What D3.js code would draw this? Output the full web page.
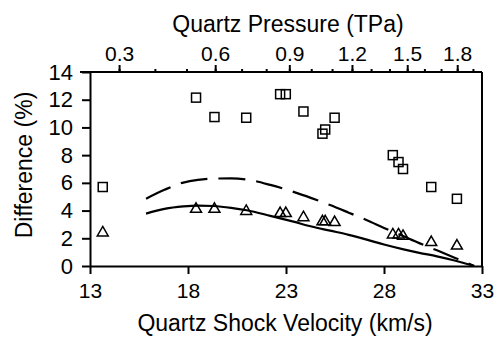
<!DOCTYPE html>
<html>
<head>
<meta charset="utf-8">
<script src="https://cdn.jsdelivr.net/npm/d3@7"></script>
<style>
  html, body { margin: 0; padding: 0; background: #fff; }
  svg { display: block; }
  text { font-family: "Liberation Sans", Arial, Helvetica, sans-serif; fill: #000; }
</style>
</head>
<body>
<svg id="chart" width="500" height="337"></svg>
<script>
// ---- data ----
const shockVelocity = [13.65, 18.41, 19.35, 20.97, 22.70, 22.99, 23.89, 24.86, 25.00, 25.48, 28.45, 28.74, 28.97, 30.41, 31.72];
const squareDiff    = [5.7, 12.15, 10.75, 10.7, 12.4, 12.4, 11.15, 9.55, 9.85, 10.7, 8.0, 7.5, 7.0, 5.7, 4.85];
const triangleDiff  = [2.4, 4.1, 4.1, 3.95, 3.8, 3.8, 3.5, 3.2, 3.2, 3.15, 2.25, 2.25, 2.15, 1.7, 1.45];

const curveVelocity = [15.86, 16.8, 17.76, 18.5, 19.3, 20.2, 21.0, 22.2, 23.38, 24.3, 25.25, 26.2, 27.13, 28.0, 29.0, 29.8, 30.7, 31.6, 32.6];
const dashedDiff    = [4.86, 5.5, 6.02, 6.22, 6.31, 6.32, 6.24, 5.85, 5.35, 4.9, 4.4, 3.85, 3.3, 2.75, 2.14, 1.65, 1.13, 0.6, 0.0];
const solidDiff     = [3.78, 4.12, 4.3, 4.36, 4.33, 4.2, 4.02, 3.62, 3.2, 2.85, 2.55, 2.25, 1.9, 1.55, 1.2, 0.95, 0.7, 0.4, 0.0];

const velocityTicks = [13, 18, 23, 28, 33];
const diffTicks = [0, 2, 4, 6, 8, 10, 12, 14];
const pressureMajor = [0.3, 0.6, 0.9, 1.2, 1.5, 1.8];
const pressureMinor = [0.3, 0.4, 0.5, 0.6, 0.7, 0.8, 0.9, 1.0, 1.1, 1.2, 1.3, 1.4, 1.5, 1.6, 1.7, 1.8, 1.9];

// quartz Hugoniot Us = a + b*up, P = rho0*Us*up (GPa)
const hugA = 4.6, hugB = 1.27, rho0 = 2.65;
function velocityFromPressure(pTPa) {
  const p = pTPa * 1000;
  return (hugA + Math.sqrt(hugA * hugA + 4 * p * hugB / rho0)) / 2;
}

(function () {
// ---- layout ----
const svg = d3.select("#chart");
const mLeft = 90, mRight = 482, mTop = 72, mBottom = 266;
const x = d3.scaleLinear().domain([13, 33]).range([mLeft, mRight]);
const y = d3.scaleLinear().domain([0, 14]).range([mBottom, mTop]);
const xp = v => x(velocityFromPressure(v));

// curves
const line = d3.line().x(d => x(d[0])).y(d => y(d[1])).curve(d3.curveMonotoneX);
svg.append("path")
  .attr("d", line(curveVelocity.map((v, i) => [v, dashedDiff[i]])))
  .attr("fill", "none").attr("stroke", "#000").attr("stroke-width", 2.2)
  .attr("stroke-dasharray", "27,11");
svg.append("path")
  .attr("d", line(curveVelocity.map((v, i) => [v, solidDiff[i]])))
  .attr("fill", "none").attr("stroke", "#000").attr("stroke-width", 2.2);

// markers
svg.append("g").selectAll("rect").data(shockVelocity).join("rect")
  .attr("x", (d) => x(d) - 4.5).attr("y", (d, i) => y(squareDiff[i]) - 4.5)
  .attr("width", 9).attr("height", 9)
  .attr("fill", "none").attr("stroke", "#000").attr("stroke-width", 1.5);

const tri = d3.symbol().type(d3.symbolTriangle).size(52);
svg.append("g").selectAll("path").data(shockVelocity).join("path")
  .attr("d", tri)
  .attr("transform", (d, i) => `translate(${x(d)},${y(triangleDiff[i])})`)
  .attr("fill", "none").attr("stroke", "#000").attr("stroke-width", 1.5);

// axes
function styleAxis(g, size) {
  g.selectAll("path.domain").attr("stroke-width", 2);
  g.selectAll(".tick line").attr("stroke-width", 2);
  g.selectAll("text").style("font-size", size + "px")
    .style("font-family", '"Liberation Sans", Arial, sans-serif');
}

const gx = svg.append("g").attr("transform", `translate(0,${mBottom})`)
  .call(d3.axisBottom(x).tickValues(velocityTicks).tickFormat(d3.format("d"))
    .tickSize(8).tickSizeOuter(0).tickPadding(9));
styleAxis(gx, 21);

const gy = svg.append("g").attr("transform", `translate(${mLeft},0)`)
  .call(d3.axisLeft(y).tickValues(diffTicks).tickFormat(d3.format("d"))
    .tickSize(8).tickSizeOuter(0).tickPadding(9));
styleAxis(gy, 22);

// top pressure axis (nonlinear via Hugoniot)
const gtMinor = svg.append("g").attr("transform", `translate(0,${mTop})`);
gtMinor.selectAll("line").data(pressureMinor).join("line")
  .attr("x1", d => xp(d)).attr("x2", d => xp(d))
  .attr("y1", 0).attr("y2", -3).attr("stroke", "#000").attr("stroke-width", 2);
const gtMajor = svg.append("g").attr("transform", `translate(0,${mTop})`);
gtMajor.selectAll("line").data(pressureMajor).join("line")
  .attr("x1", d => xp(d)).attr("x2", d => xp(d))
  .attr("y1", 0).attr("y2", -7).attr("stroke", "#000").attr("stroke-width", 2);
gtMajor.selectAll("text").data(pressureMajor).join("text")
  .attr("x", d => xp(d)).attr("y", -11)
  .attr("text-anchor", "middle").style("font-size", "21px")
  .text(d => d3.format(".1f")(d));

// frame (top line and right line)
svg.append("line").attr("x1", mLeft - 10).attr("x2", mRight).attr("y1", mTop).attr("y2", mTop)
  .attr("stroke", "#000").attr("stroke-width", 2);
svg.append("line").attr("x1", mRight).attr("x2", mRight).attr("y1", mTop).attr("y2", mBottom)
  .attr("stroke", "#000").attr("stroke-width", 2);

// titles
svg.append("text").attr("x", 288).attr("y", 31.5).attr("text-anchor", "middle")
  .style("font-size", "23px").text("Quartz Pressure (TPa)");
svg.append("text").attr("x", 285).attr("y", 331).attr("text-anchor", "middle")
  .style("font-size", "23px").text("Quartz Shock Velocity (km/s)");
svg.append("text").attr("transform", "translate(32,165) rotate(-90)").attr("text-anchor", "middle")
  .style("font-size", "23px").text("Difference (%)");
})();
</script>
</body>
</html>
